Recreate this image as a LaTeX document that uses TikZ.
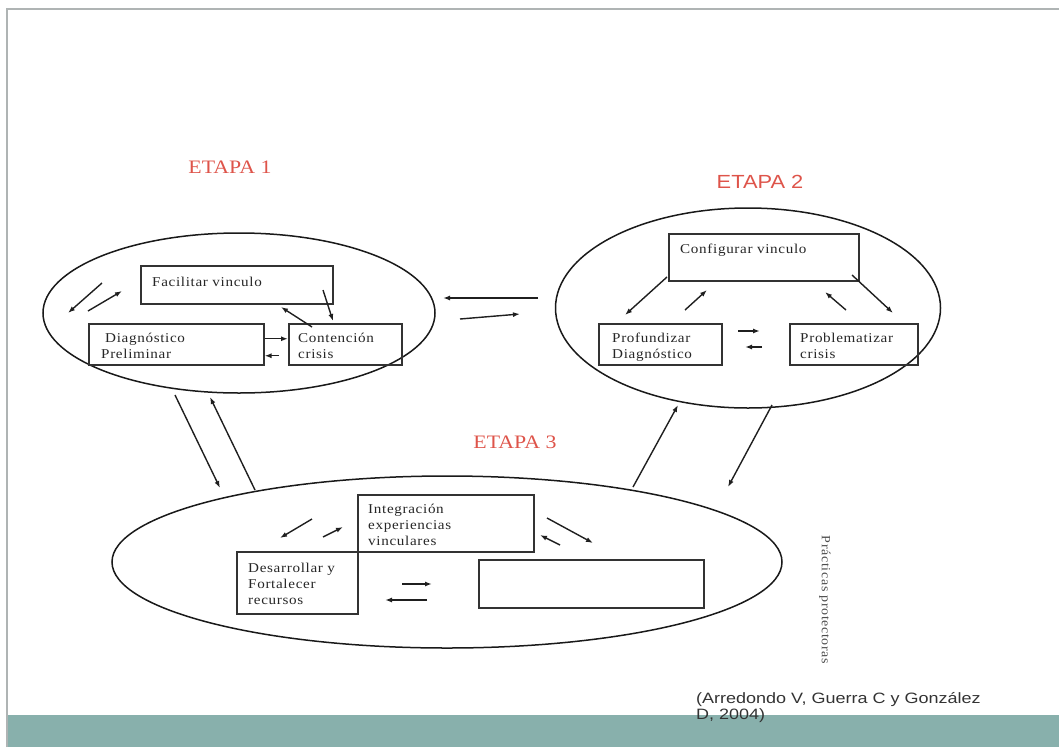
\documentclass[tikz,border=0pt]{standalone}
\usepackage{fontspec}
\usetikzlibrary{shapes.geometric,positioning,arrows.meta}
\newfontfamily\cajafont[FakeStretch=1.12,LetterSpace=5]{Liberation Serif}
\newfontfamily\etapaserif[FakeStretch=1.15]{Liberation Serif}
\newfontfamily\etapasans[FakeStretch=1.15]{Liberation Sans}
\newfontfamily\citafont[FakeStretch=1.2]{Liberation Sans}
\definecolor{rojoetapa}{RGB}{222,84,74}
\definecolor{franja}{RGB}{136,176,172}
\definecolor{marco}{RGB}{175,180,180}

\begin{document}
\begin{tikzpicture}[x=1pt, y=-1pt,
    etapa/.style={draw=black!90, line width=1.5pt, ellipse, inner sep=0},
    caja/.style={draw=black!80, line width=1.5pt, rectangle, inner sep=0, anchor=north west},
    texto/.style={font=\cajafont\fontsize{13.5}{16}\selectfont, align=left, inner sep=0, text=black!85},
    titulo/.style={text=rojoetapa, inner sep=0},
    flecha/.style={-{Latex[length=7pt,width=5pt]}, line width=1.4pt, draw=black!88}]
    \useasboundingbox (0,0) rectangle (1059,747);
    \fill[franja] (8,715) rectangle (1059,747);
    \draw[marco, line width=2pt] (7,747) -- (7,9) -- (1059,9);

    \node[etapa, minimum width=392pt, minimum height=160pt] (etapa1) at (239,313) {};
    \node[etapa, minimum width=385pt, minimum height=200pt] (etapa2) at (748,308) {};
    \node[etapa, minimum width=670pt, minimum height=172pt] (etapa3) at (447,562) {};

    \node[titulo, font=\etapaserif\fontsize{19}{22}\selectfont] (t1) at (230,167) {ETAPA 1};
    \node[titulo, font=\etapasans\fontsize{19}{22}\selectfont] (t2) at (760,182) {ETAPA 2};
    \node[titulo, font=\etapaserif\fontsize{19}{22}\selectfont] (t3) at (515,442) {ETAPA 3};

    \node[caja, minimum width=192pt, minimum height=38pt] (facilitar) at (140,265) {};
    \node[caja, minimum width=175pt, minimum height=41pt] (diagnostico) at (88,323) {};
    \node[caja, minimum width=113pt, minimum height=41pt] (contencion) at (288,323) {};
    \node[caja, minimum width=190pt, minimum height=47pt] (configurar) at (668,233) {};
    \node[caja, minimum width=123pt, minimum height=41pt] (profundizar) at (598,323) {};
    \node[caja, minimum width=128pt, minimum height=41pt] (problematizar) at (789,323) {};
    \node[caja, minimum width=176pt, minimum height=57pt] (integracion) at (357,494) {};
    \node[caja, minimum width=121pt, minimum height=62pt] (desarrollar) at (236,551) {};
    \node[caja, minimum width=225pt, minimum height=48pt] (vacio) at (478,559) {};

    \node[texto, below right=12pt and 12pt of facilitar.north west] (tfacilitar) {Facilitar vinculo};
    \node[texto, below right=10pt and 13pt of diagnostico.north west] (tdiagnostico) {\hspace*{4pt}Diagnóstico\\Preliminar};
    \node[texto, below right=10pt and 10pt of contencion.north west] (tcontencion) {Contención\\crisis};
    \node[texto, below right=11pt and 12pt of configurar.north west] (tconfigurar) {Configurar vinculo};
    \node[texto, below right=10pt and 14pt of profundizar.north west] (tprofundizar) {Profundizar\\Diagnóstico};
    \node[texto, below right=10pt and 11pt of problematizar.north west] (tproblematizar) {Problematizar\\crisis};
    \node[texto, below right=10pt and 11pt of integracion.north west] (tintegracion) {Integración\\experiencias\\vinculares};
    \node[texto, below right=12pt and 12pt of desarrollar.north west] (tdesarrollar) {Desarrollar y\\Fortalecer\\recursos};

    \node[texto, font=\cajafont\fontsize{12.5}{14}\selectfont, text=black!70, rotate=-90] (practicas) at (825,600) {Prácticas protectoras};
    \node[font=\citafont\fontsize{15}{16.5}\selectfont, text=black!80, align=left, inner sep=0, anchor=north west] (cita) at (696,692) {(Arredondo V, Guerra C y González\\D, 2004)};

    \draw[flecha] ([yshift=5.5pt]diagnostico.east) -- ([yshift=5.5pt]contencion.west);
    \draw[flecha] ([xshift=-9pt,yshift=-11.5pt]contencion.west) -- ([yshift=-11.5pt]diagnostico.east);
    \foreach \xa/\ya/\xb/\yb in {102/283/68/313, 88/311/122/291, 323/290/333/321, 312/327/281/307,
        538/298/443/298, 460/319/520/314, 175/395/220/488, 255/490/210/397,
        633/487/678/405, 772/405/728/487,
        667/277/625/315, 685/310/707/290, 846/310/825/292, 852/275/893/313,
        738/331/760/331, 762/347/745/347,
        312/519/280/538, 323/537/343/527, 402/584/432/584, 427/600/385/600,
        547/518/593/543, 560/545/540/535}
      \draw[flecha] (\xa,\ya) -- (\xb,\yb);
\end{tikzpicture}
\end{document}
